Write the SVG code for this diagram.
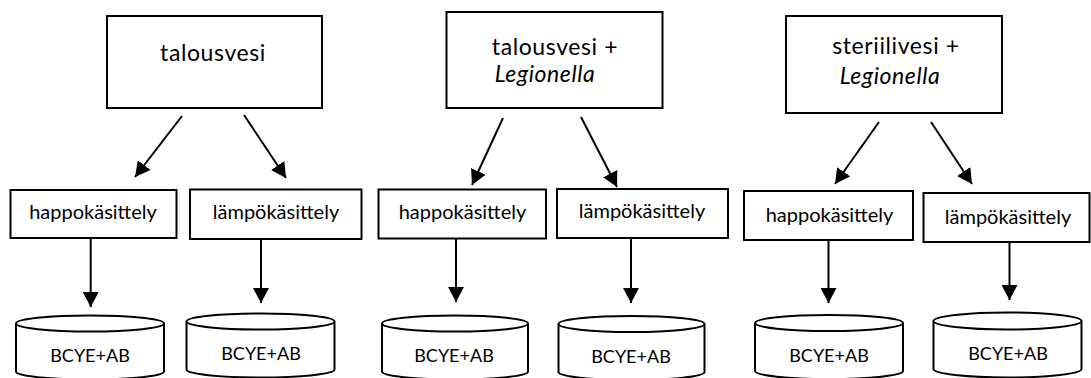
<svg xmlns="http://www.w3.org/2000/svg" width="1091" height="378" viewBox="0 0 1091 378">
<style>
.box{fill:#fff;stroke:#000;stroke-width:2}
.cyl{fill:#fff;stroke:#000;stroke-width:2}
.t{font-family:Lato,"Open Sans","Liberation Sans",sans-serif;fill:#000;text-anchor:middle}
.big{font-size:23px;letter-spacing:0.6px}
.mid{font-size:20px}
.sm{font-size:18px}
.it{font-style:italic}
.con line{stroke:#000;stroke-width:2;marker-end:url(#ah)}
</style>
<defs>
<marker id="ah" markerUnits="userSpaceOnUse" markerWidth="16" markerHeight="16" refX="15" refY="8" orient="auto">
<path d="M0,0 L15,8 L0,16 z" fill="#000"/>
</marker>
</defs>
<rect width="1091" height="378" fill="#fff"/>
<g id="n1">
<rect class="box" x="107" y="16" width="215" height="92"/>
<text class="t big" x="213" y="61">talousvesi</text>
</g>
<g id="n2">
<rect class="box" x="446.5" y="12" width="216" height="96"/>
<text class="t big" x="555" y="55">talousvesi +</text>
<text class="t big it" x="545" y="82">Legionella</text>
</g>
<g id="n3">
<rect class="box" x="786" y="16" width="216" height="97"/>
<text class="t big" x="896" y="54">steriilivesi +</text>
<text class="t big it" x="890" y="84">Legionella</text>
</g>
<g id="h1">
<rect class="box" x="10.5" y="190" width="166" height="48"/>
<text class="t mid" x="93" y="219">happokäsittely</text>
</g>
<g id="l1">
<rect class="box" x="190" y="189.5" width="171.5" height="49.5"/>
<text class="t mid" x="276" y="219">lämpökäsittely</text>
</g>
<g id="h2">
<rect class="box" x="378.5" y="189.5" width="167.5" height="49"/>
<text class="t mid" x="462.5" y="219">happokäsittely</text>
</g>
<g id="l2">
<rect class="box" x="557" y="189" width="171" height="49"/>
<text class="t mid" x="642" y="218">lämpökäsittely</text>
</g>
<g id="h3">
<rect class="box" x="744" y="191" width="169" height="49"/>
<text class="t mid" x="829.5" y="222">happokäsittely</text>
</g>
<g id="l3">
<rect class="box" x="923.5" y="193" width="166" height="49"/>
<text class="t mid" x="1008" y="224">lämpökäsittely</text>
</g>
<g id="c1">
<path class="cyl" d="M16,323.5 L16,371.5 A74,8 0 0 0 164,371.5 L164,323.5"/>
<ellipse class="cyl" cx="90" cy="323.5" rx="74" ry="8"/>
<text class="t sm" x="90" y="362">BCYE+AB</text>
</g>
<g id="c2">
<path class="cyl" d="M186.5,321.5 L186.5,369.5 A74,8 0 0 0 334.5,369.5 L334.5,321.5"/>
<ellipse class="cyl" cx="260.5" cy="321.5" rx="74" ry="8"/>
<text class="t sm" x="261" y="360">BCYE+AB</text>
</g>
<g id="c3">
<path class="cyl" d="M382,323.5 L382,371.5 A73,8 0 0 0 528,371.5 L528,323.5"/>
<ellipse class="cyl" cx="455" cy="323.5" rx="73" ry="8"/>
<text class="t sm" x="454" y="362">BCYE+AB</text>
</g>
<g id="c4">
<path class="cyl" d="M558.5,324 L558.5,372 A73,8 0 0 0 704.5,372 L704.5,324"/>
<ellipse class="cyl" cx="631.5" cy="324" rx="73" ry="8"/>
<text class="t sm" x="631" y="363">BCYE+AB</text>
</g>
<g id="c5">
<path class="cyl" d="M755,323 L755,371 A74,8 0 0 0 903,371 L903,323"/>
<ellipse class="cyl" cx="829" cy="323" rx="74" ry="8"/>
<text class="t sm" x="829" y="362">BCYE+AB</text>
</g>
<g id="c6">
<path class="cyl" d="M933.5,321 L933.5,369 A74,8.5 0 0 0 1081.5,369 L1081.5,321"/>
<ellipse class="cyl" cx="1007.5" cy="321" rx="74" ry="8.5"/>
<text class="t sm" x="1008" y="360">BCYE+AB</text>
</g>
<g id="connectors" class="con">
<line x1="182" y1="116" x2="135" y2="177"/>
<line x1="244" y1="115" x2="286" y2="178"/>
<line x1="503" y1="118" x2="472" y2="185"/>
<line x1="581" y1="117" x2="617" y2="187"/>
<line x1="879" y1="122" x2="835" y2="184"/>
<line x1="931" y1="122" x2="972" y2="184"/>
<line x1="90.7" y1="239" x2="90.7" y2="307"/>
<line x1="261" y1="239" x2="261" y2="303"/>
<line x1="456" y1="239" x2="456" y2="302"/>
<line x1="631" y1="238" x2="631" y2="303"/>
<line x1="828.5" y1="240" x2="828.5" y2="303"/>
<line x1="1009.5" y1="242" x2="1009.5" y2="300"/>
</g>
</svg>
